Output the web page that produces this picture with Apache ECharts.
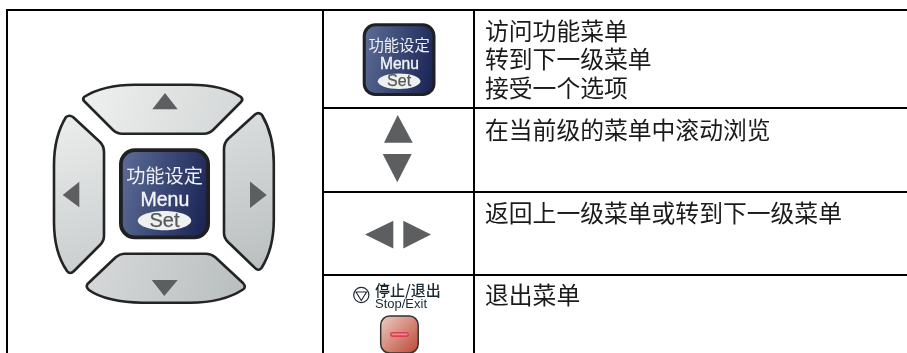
<!DOCTYPE html>
<html>
<head>
<meta charset="utf-8">
<style>html,body{margin:0;padding:0;background:#fff}#c{width:907px;height:353px}</style>
<script src="https://cdn.jsdelivr.net/npm/echarts@6/dist/echarts.min.js"></script>
</head>
<body>
<div id="c"></div>
<script>
// ---- content ----
var rowLines = [
  ['访问功能菜单', '转到下一级菜单', '接受一个选项'],
  ['在当前级的菜单中滚动浏览'],
  ['返回上一级菜单或转到下一级菜单'],
  ['退出菜单']
];
var rowFirstLineCentre = [31, 129.7, 213, 295];
var keyLabelCn = '功能设定';
var keyLabelMenu = 'Menu';
var keyLabelSet = 'Set';
var stopLabelCn = '停止/退出';
var stopLabelEn = 'Stop/Exit';
// ---- table rules ----
var vRules = [6, 322, 473];
var hRules = [107, 191, 274];

var CJK = '"Noto Sans CJK SC", "Noto Sans", sans-serif';
var LAT = '"Liberation Sans", Arial, sans-serif';
var els = [];
var pathCount = 0;
function rect(x, y, w, h, fill, extra) {
  var o = {type: 'rect', shape: {x: x, y: y, width: w, height: h}, style: {fill: fill}};
  if (extra) { if (extra.r) o.shape.r = extra.r; if (extra.stroke) { o.style.stroke = extra.stroke; o.style.lineWidth = extra.lw; } }
  els.push(o);
}
function poly(pts, fill) { els.push({type: 'polygon', shape: {points: pts}, style: {fill: fill}}); }
function path(d, fill, stroke, lw) {
  var name = 'padButton' + (pathCount++);
  echarts.graphic.registerShape(name, echarts.graphic.extendPath(d, {}));
  els.push({type: name, style: {fill: fill, stroke: stroke, lineWidth: lw, lineJoin: 'round'}});
}
function text(t, x, y, size, fam, color, weight, align, thicken) {
  var st = {text: t, x: x, y: y, fill: color, align: align || 'center', verticalAlign: 'middle',
    font: (weight || 'normal') + ' ' + size + 'px ' + fam};
  if (thicken) { st.stroke = color; st.lineWidth = thicken; }
  els.push({type: 'text', style: st});
}
function grad(x0, y0, x1, y1, a, b) {
  return {type: 'linear', x: x0, y: y0, x2: x1, y2: y1, global: false, colorStops: [{offset: 0, color: a}, {offset: 1, color: b}]};
}

// table
vRules.forEach(function (x) { rect(x, 9, 2, 344, '#000'); });
rect(6, 9, 901, 2, '#000');
hRules.forEach(function (y) { rect(322, y, 585, 2, '#000'); });

// row text
rowLines.forEach(function (lines, i) {
  lines.forEach(function (l, j) {
    text(l, 485, rowFirstLineCentre[i] + j * 28.3, 23.8, CJK, '#1a1a1a', 'normal', 'left');
  });
});

// direction pad
var padGrey = '#5c5e60', edge = '#222426';
path('M84 97C98 88 118 84.7 135 84.7L190 84.7C208 84.7 228 88 241 97Q243.5 99.5 241 102L213 130Q209 133.7 204 133.7L122 133.7Q117 133.7 113 130L85 102Q82 99.5 84 97Z',
  grad(0, 0, 1, 1, '#eff0f0', '#d3d6d6'), edge, 2.6);
path('M87.5 284L116 257Q120 253.7 124 253.7L206 253.7Q211 253.7 215 257L243 283Q246.5 287 243 289.5C230 298 212 302.7 190 302.7L142 302.7C120 302.7 100 298 89 290Q85.5 287 87.5 284Z',
  grad(0, 0, 1, 1, '#d7dada', '#b8bdbd'), edge, 2.6);
path('M66 117Q69.5 114.5 73 117L100 142Q104 146 104 152L104 236Q104 241 100 245L74 271Q70 275 67 271C58 258 54 240 54 222L54 165C54 148 58 130 66 117Z',
  grad(0, 0, 1, 1, '#eceeee', '#c9cccc'), edge, 2.6);
path('M262 115Q258.5 111.5 255 114.5L228 139Q224 143 224 149L224 233Q224 238 228 242L254 267Q258 272 261.5 268C269 256 273.8 238 273.8 220L273.8 163C273.8 145 269 127 262 115Z',
  grad(0, 0, 1, 1, '#dcdfdf', '#b9bebe'), edge, 2.6);
poly([[165, 93], [177.7, 109.3], [152.3, 109.3]], padGrey);
poly([[151.7, 280], [177.7, 280], [164.3, 296]], padGrey);
poly([[62.7, 195], [79.3, 181.7], [79.3, 207.3]], padGrey);
poly([[266.7, 195], [250, 181.5], [250, 208]], padGrey);

// Menu / Set key
function key(x0, y0, s) {
  var w = 91 * s, h = 91 * s, b = 3.8 * s;
  rect(x0 + b / 2, y0 + b / 2, w - b, h - b, grad(0, 0.4, 1, 0.6, '#5a6a94', '#1b2555'), {r: 14 * s, stroke: '#1e2022', lw: b});
  var cx = x0 + w / 2;
  text(keyLabelCn, cx, y0 + 27.7 * s, 19.2 * s, CJK, '#eef0f6');
  text(keyLabelMenu, cx + 0.4 * s, y0 + 52 * s, 19.5 * s, LAT, '#f4f5f8', 'normal', 'center', 0.35);
  els.push({type: 'ellipse', shape: {cx: cx, cy: y0 + 72.3 * s, rx: 26.7 * s, ry: 9.7 * s}, style: {fill: '#eff0f0'}});
  text(keyLabelSet, cx, y0 + 72.8 * s, 20 * s, LAT, '#55585c', 'normal', 'center', 0.25);
}
key(119, 148.3, 1);
key(362.7, 23.3, 0.8);

// mid-column arrows
poly([[397.7, 115], [412.7, 142.7], [384, 142.7]], padGrey);
poly([[382.7, 154], [411.7, 154], [397.3, 182.3]], padGrey);
poly([[365, 234.5], [393.3, 220.7], [393.3, 248.5]], padGrey);
poly([[431, 234.5], [403.3, 220.7], [403.3, 248.5]], padGrey);

// stop / exit key
els.push({type: 'circle', shape: {cx: 361.3, cy: 295, r: 7.6}, style: {fill: '#fff', stroke: '#1c2a33', lineWidth: 1.2}});
els.push({type: 'polygon', shape: {points: [[356, 292], [366.6, 292], [361.3, 300.5]]}, style: {fill: 'none', stroke: '#1c2a33', lineWidth: 1.1}});
text(stopLabelCn, 375, 290, 15, CJK, '#182833', '500', 'left');
text(stopLabelEn, 375, 304.5, 13, LAT, '#182833', 'normal', 'left');
rect(380.7, 316, 37.5, 37, grad(0, 0, 1, 1, '#ecd0c6', '#bd4432'), {r: 9, stroke: '#333', lw: 1.5});
rect(390, 332, 19, 5, '#dd3f4e', {r: 2.5});
rect(391.5, 333.6, 16, 1.6, '#f08a94', {r: 0.8});

var chart = echarts.init(document.getElementById('c'), null, {renderer: 'canvas'});
chart.setOption({animation: false, backgroundColor: '#fff', graphic: {elements: els}});
</script>
</body>
</html>
